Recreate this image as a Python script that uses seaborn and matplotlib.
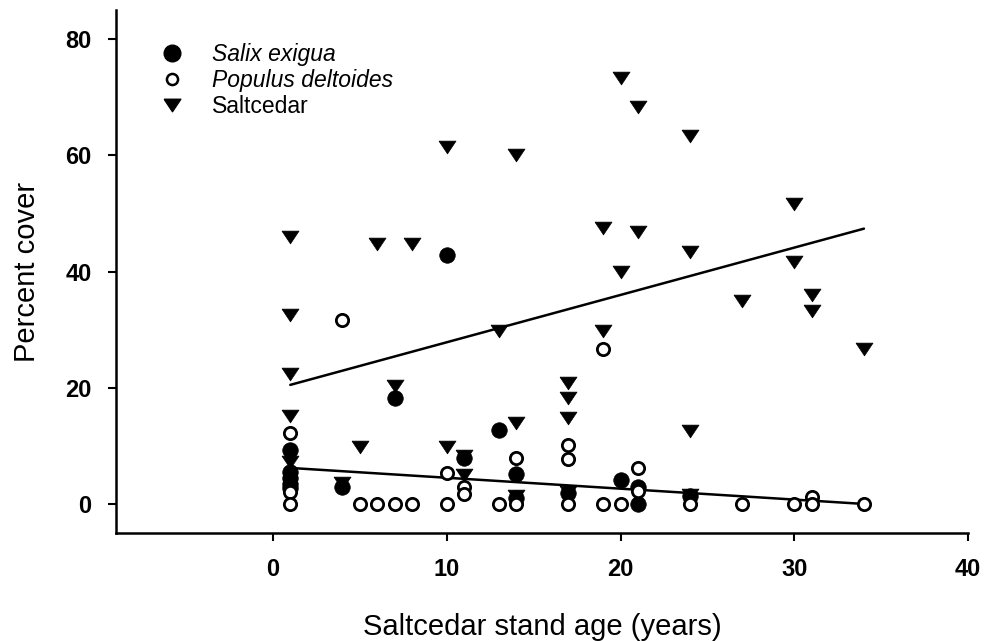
import matplotlib
matplotlib.use("Agg")
import matplotlib.pyplot as plt
import seaborn as sns
import pandas as pd
from matplotlib.lines import Line2D

sns.set_theme(style="ticks")
plt.rcParams["font.family"] = ["Liberation Sans", "DejaVu Sans"]
plt.rcParams["text.color"] = "black"

# Salix exigua cover by stand age
salix_age = [1, 1, 1, 1, 1, 4, 7, 10, 11, 13, 14, 14, 17, 20, 21, 21, 24]
salix_cover = [9.3, 5.5, 4.5, 3.5, 2.8, 3.0, 18.3, 42.8, 7.9, 12.8, 5.2, 1.0, 1.8, 4.2, 3.0, 0.0, 1.4]

# Populus deltoides cover by stand age
populus_age = [1, 1, 1, 4, 5, 6, 7, 8, 10, 10, 11, 11, 13, 14, 14, 17, 17, 17,
               19, 19, 20, 21, 21, 24, 27, 30, 31, 31, 34]
populus_cover = [12.3, 2.0, 0.0, 31.6, 0.0, 0.0, 0.0, 0.0, 5.3, 0.0, 3.0, 1.7, 0.0, 7.9, 0.0,
                 10.2, 7.8, 0.0, 26.7, 0.0, 0.0, 6.2, 2.2, 0.0, 0.0, 0.0, 1.2, 0.0, 0.0]

# Saltcedar cover by stand age
saltcedar_age = [1, 1, 1, 1, 1, 4, 5, 6, 7, 8, 10, 10, 11, 11, 13, 14, 14, 14,
                 17, 17, 17, 17, 19, 19, 20, 20, 21, 21, 24, 24, 24, 24, 27, 30, 30, 31, 31, 34]
saltcedar_cover = [46.0, 32.5, 22.3, 15.2, 7.3, 3.6, 9.8, 44.8, 20.3, 44.8, 61.5, 9.8, 8.2, 5.0,
                   29.8, 60.0, 14.0, 1.3, 20.8, 18.2, 14.8, 2.0, 47.5, 29.8, 73.3, 40.0,
                   68.3, 46.8, 63.3, 43.3, 12.5, 1.6, 35.0, 51.7, 41.6, 36.0, 33.2, 26.7]

# Fitted trend lines (end points)
trend_age = [1, 34]
saltcedar_trend = [20.5, 47.4]
native_trend = [6.2, 0.0]

salix_df = pd.DataFrame({"age": salix_age, "cover": salix_cover})
populus_df = pd.DataFrame({"age": populus_age, "cover": populus_cover})
saltcedar_df = pd.DataFrame({"age": saltcedar_age, "cover": saltcedar_cover})
trend_df = pd.DataFrame({"age": trend_age + trend_age,
                         "cover": saltcedar_trend + native_trend,
                         "fit": ["saltcedar"] * 2 + ["native"] * 2})

# slightly flattened downward triangle
tri = [(-1.0, 0.75), (1.0, 0.75), (0.0, -0.75), (-1.0, 0.75)]

fig = plt.figure(figsize=(9.87, 6.41), dpi=100)
ax = fig.add_axes([0.118, 0.1685, 0.863, 0.8155])

sns.lineplot(data=trend_df, x="age", y="cover", units="fit", estimator=None,
             color="black", linewidth=1.8, ax=ax, zorder=2)
sns.scatterplot(data=saltcedar_df, x="age", y="cover", marker=tri, s=150,
                color="black", edgecolor="black", linewidth=0.5, ax=ax, zorder=3)
sns.scatterplot(data=salix_df, x="age", y="cover", marker="o", s=125,
                color="black", edgecolor="black", linewidth=0.5, ax=ax, zorder=4)
sns.scatterplot(data=populus_df, x="age", y="cover", marker="o", s=78,
                facecolor="white", edgecolor="black", linewidth=2.0, ax=ax, zorder=5)

ax.set_xlim(-9, 40)
ax.set_ylim(-5, 85)
ax.set_xticks([0, 10, 20, 30, 40])
ax.set_yticks([0, 20, 40, 60, 80])
sns.despine(ax=ax)
for side in ("left", "bottom"):
    ax.spines[side].set_linewidth(1.8)
    ax.spines[side].set_color("black")
ax.tick_params(axis="both", direction="out", length=6, width=1.5, colors="black",
               labelsize=17, pad=12)
for lbl in ax.get_xticklabels() + ax.get_yticklabels():
    lbl.set_fontweight("bold")

ax.set_xlabel("Saltcedar stand age (years)", fontsize=21, labelpad=23, color="black")
ax.set_ylabel("Percent cover", fontsize=21, labelpad=17, color="black")

handles = [
    Line2D([], [], marker="o", linestyle="none", markersize=12,
           markerfacecolor="black", markeredgecolor="black"),
    Line2D([], [], marker="o", linestyle="none", markersize=8,
           markerfacecolor="white", markeredgecolor="black", markeredgewidth=1.8),
    Line2D([], [], marker=tri, linestyle="none", markersize=12,
           markerfacecolor="black", markeredgecolor="black"),
]
labels = ["Salix exigua", "Populus deltoides", "Saltcedar"]
leg = ax.legend(handles, labels, loc="upper left", bbox_to_anchor=(0.052, 0.937),
                frameon=False, fontsize=16.5, handlelength=1.0, handletextpad=1.25,
                labelspacing=0.12, borderaxespad=0, borderpad=0)
texts = leg.get_texts()
for t in texts:
    t.set_color("black")
texts[0].set_fontstyle("italic")
texts[1].set_fontstyle("italic")

fig.savefig("out.png", dpi=100)
